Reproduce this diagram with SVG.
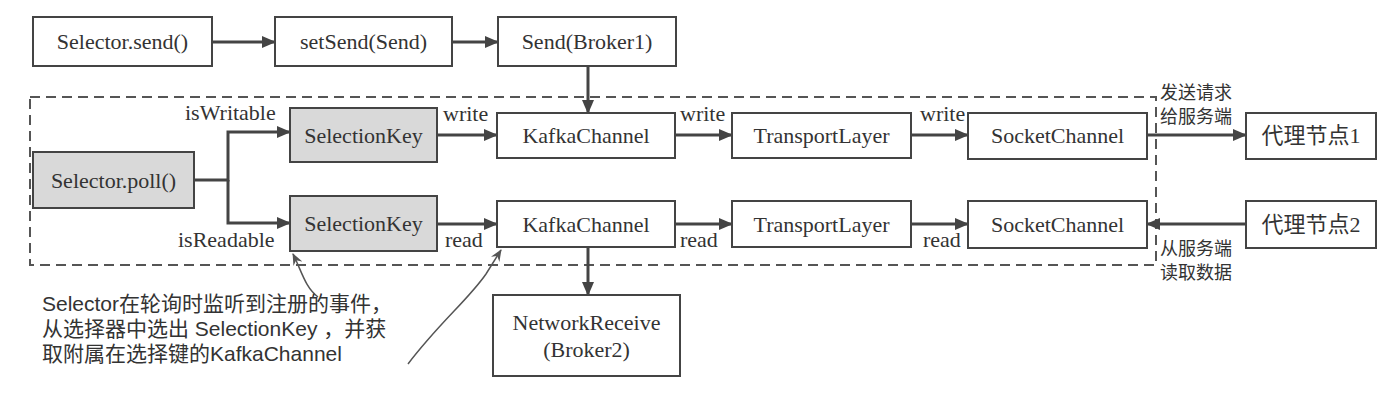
<svg xmlns="http://www.w3.org/2000/svg" width="1385" height="403" viewBox="0 0 1385 403">
<style>
.box{fill:#fff;stroke:#444;stroke-width:2}
.sh{fill:#d9d9d9;stroke:#444;stroke-width:2}
.t{font-family:"Liberation Serif","Noto Sans CJK SC",serif;font-size:22px;fill:#333;text-anchor:middle}
.lb{font-family:"Liberation Serif","Noto Sans CJK SC",serif;font-size:22px;fill:#333}
.cn{font-family:"Noto Sans CJK SC",sans-serif;font-size:18px;fill:#333}
.note{font-family:"Liberation Sans","Noto Sans CJK SC",sans-serif;font-size:21px;fill:#333}
.ar{fill:none;stroke:#444;stroke-width:3;marker-end:url(#ah)}
.thin{fill:none;stroke:#555;stroke-width:1.5;marker-end:url(#ah2)}
.dash{fill:none;stroke:#555;stroke-width:2;stroke-dasharray:10 6}
</style>
<defs>
<marker id="ah" markerUnits="userSpaceOnUse" markerWidth="14" markerHeight="12" refX="13" refY="6" orient="auto"><path d="M0,0 L14,6 L0,12 z" fill="#444"/></marker>
<marker id="ah2" markerUnits="userSpaceOnUse" markerWidth="12" markerHeight="10" refX="11" refY="5" orient="auto"><path d="M0,0 L12,5 L0,10 L4,5 z" fill="#555"/></marker>
</defs>
<rect width="1385" height="403" fill="#fff"/>
<rect id="boundary" class="dash" x="30" y="97" width="1126" height="168"/>

<g id="connectors">
<path class="ar" d="M212,42 L275,42"/>
<path class="ar" d="M452,42 L498,42"/>
<path class="ar" d="M588,66 L588,113"/>
<path class="ar" d="M194,180 L228,180 L228,132 L290,132"/>
<path class="ar" d="M228,180 L228,223 L290,223"/>
<path class="ar" d="M437,135 L497,135"/>
<path class="ar" d="M675,135 L732,135"/>
<path class="ar" d="M911,135 L968,135"/>
<path class="ar" d="M1147,135 L1246,135"/>
<path class="ar" d="M437,224 L497,224"/>
<path class="ar" d="M675,224 L732,224"/>
<path class="ar" d="M911,224 L968,224"/>
<path class="ar" d="M1246,224 L1147,224"/>
<path class="ar" d="M588,247 L588,295"/>
<path class="thin" d="M318,297 C305,287 302,272 293,254"/>
<path class="thin" d="M408,364 C440,322 468,300 486,274 L501,250"/>
<text class="lb" x="185" y="120">isWritable</text>
<text class="lb" x="178" y="247">isReadable</text>
<text class="lb" x="443" y="121">write</text>
<text class="lb" x="680" y="121">write</text>
<text class="lb" x="920" y="121">write</text>
<text class="lb" x="445" y="247">read</text>
<text class="lb" x="680" y="247">read</text>
<text class="lb" x="923" y="247">read</text>
<text class="cn" x="1160" y="99">发送请求</text>
<text class="cn" x="1160" y="123">给服务端</text>
<text class="cn" x="1160" y="255">从服务端</text>
<text class="cn" x="1160" y="279">读取数据</text>
</g>

<g id="n-send"><rect class="box" x="33" y="17" width="179" height="49"/><text class="t" x="122.5" y="49">Selector.send()</text></g>
<g id="n-setsend"><rect class="box" x="275" y="17" width="177" height="49"/><text class="t" x="363.5" y="49">setSend(Send)</text></g>
<g id="n-broker1"><rect class="box" x="498" y="17" width="178" height="49"/><text class="t" x="587" y="49">Send(Broker1)</text></g>
<g id="n-poll"><rect class="sh" x="33" y="152" width="161" height="56"/><text class="t" x="113.5" y="188">Selector.poll()</text></g>
<g id="n-sk1"><rect class="sh" x="290" y="108" width="147" height="54"/><text class="t" x="363.5" y="143">SelectionKey</text></g>
<g id="n-sk2"><rect class="sh" x="290" y="196" width="147" height="55"/><text class="t" x="363.5" y="231">SelectionKey</text></g>
<g id="n-kc1"><rect class="box" x="497" y="113" width="178" height="45"/><text class="t" x="586" y="143">KafkaChannel</text></g>
<g id="n-kc2"><rect class="box" x="497" y="201" width="178" height="46"/><text class="t" x="586" y="232">KafkaChannel</text></g>
<g id="n-tl1"><rect class="box" x="732" y="113" width="179" height="45"/><text class="t" x="821.5" y="143">TransportLayer</text></g>
<g id="n-tl2"><rect class="box" x="732" y="201" width="179" height="46"/><text class="t" x="821.5" y="232">TransportLayer</text></g>
<g id="n-sc1"><rect class="box" x="968" y="113" width="179" height="46"/><text class="t" x="1057.5" y="143">SocketChannel</text></g>
<g id="n-sc2"><rect class="box" x="968" y="201" width="179" height="47"/><text class="t" x="1057.5" y="232">SocketChannel</text></g>
<g id="n-proxy1"><rect class="box" x="1246" y="113" width="130" height="46"/><text class="t" x="1311" y="143">代理节点1</text></g>
<g id="n-proxy2"><rect class="box" x="1246" y="201" width="130" height="47"/><text class="t" x="1311" y="232">代理节点2</text></g>
<g id="n-recv"><rect class="box" x="493" y="295" width="187" height="81"/><text class="t" x="586.5" y="330">NetworkReceive</text><text class="t" x="586.5" y="357">(Broker2)</text></g>

<g id="note">
<text class="note" x="42" y="311">Selector在轮询时监听到注册的事件，</text>
<text class="note" x="42" y="336">从选择器中选出 SelectionKey ，并获</text>
<text class="note" x="42" y="361">取附属在选择键的KafkaChannel</text>
</g>
</svg>
